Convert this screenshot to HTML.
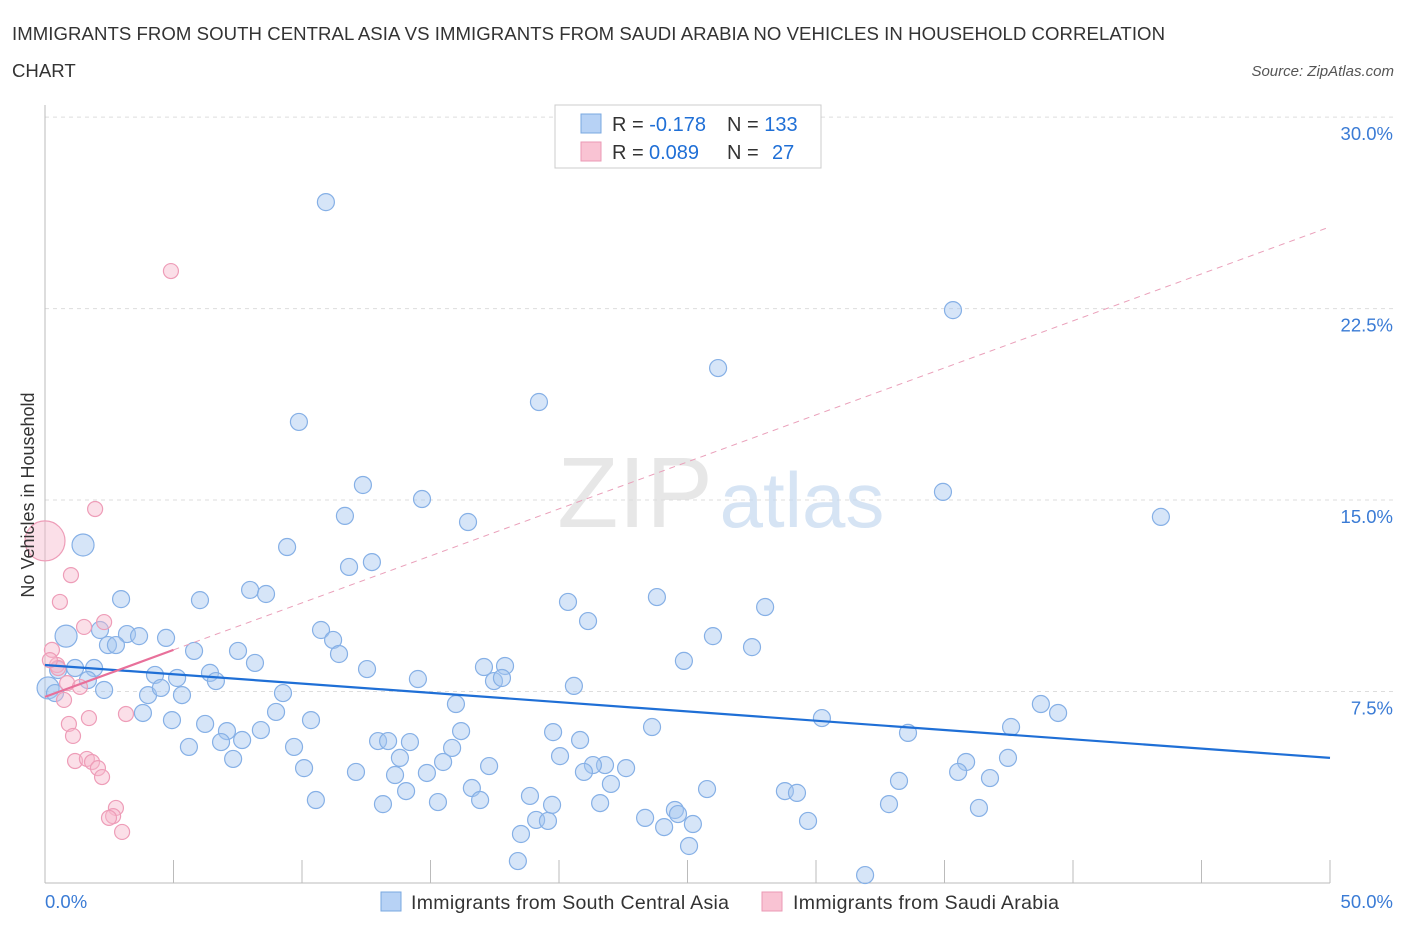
<!DOCTYPE html>
<html><head><meta charset="utf-8"><style>
body{margin:0;background:#fff;font-family:"Liberation Sans",sans-serif;}
svg text{font-family:"Liberation Sans",sans-serif;}
</style></head><body>
<svg id="chart" width="1406" height="930">
<text x="12" y="40" font-size="18.6" fill="#333" textLength="1153">IMMIGRANTS FROM SOUTH CENTRAL ASIA VS IMMIGRANTS FROM SAUDI ARABIA NO VEHICLES IN HOUSEHOLD CORRELATION</text>
<text x="12" y="77" font-size="18.6" fill="#333">CHART</text>
<text x="1394" y="76" font-size="15" fill="#555" font-style="italic" text-anchor="end">Source: ZipAtlas.com</text>
<g id="grid"></g>
<g>
<text x="635" y="527" font-size="100" fill="#ddd" font-family="Liberation Serif" text-anchor="middle" opacity="0.7">ZIP</text>
<text x="802" y="527" font-size="78" fill="#c6d9f0" text-anchor="middle" opacity="0.7">atlas</text>
</g>
<g id="axes"></g>
<g id="pts"></g>
<g id="trends"></g>
<text x="34" y="495" font-size="18" fill="#333" text-anchor="middle" transform="rotate(-90 34 495)">No Vehicles in Household</text>
<g>
<rect x="555" y="105" width="266" height="63" fill="#fff" stroke="#ccc"/>
<rect x="581" y="114" width="20" height="19" fill="#b7d2f5" stroke="#7aa8e0"/>
<rect x="581" y="142" width="20" height="19" fill="#f9c3d3" stroke="#eb9ab5"/>
<text x="612" y="131" font-size="20" fill="#333">R = <tspan fill="#1f6fd6">-0.178</tspan><tspan x="727">N = </tspan><tspan fill="#1f6fd6">133</tspan></text>
<text x="612" y="159" font-size="20" fill="#333">R = <tspan fill="#1f6fd6" x="649">0.089</tspan><tspan x="727">N = </tspan><tspan fill="#1f6fd6" x="772">27</tspan></text>
</g>
<g>
<rect x="381" y="892" width="20" height="19" fill="#b7d2f5" stroke="#7aa8e0"/>
<text x="411" y="909" font-size="19.5" fill="#333" textLength="318">Immigrants from South Central Asia</text>
<rect x="762" y="892" width="20" height="19" fill="#f9c3d3" stroke="#eb9ab5"/>
<text x="793" y="909" font-size="19.5" fill="#333" textLength="266">Immigrants from Saudi Arabia</text>
</g>
</svg>
<script>
const blueX=[10.93,35.33,26.19,19.22,9.88,12.37,14.67,34.94,11.67,16.46,43.42,1.48,9.42,11.83,12.72,7.98,8.6,2.96,6.03,20.35,23.81,28.02,21.13,10.74,2.14,0.82,3.19,3.66,4.71,25.99,11.21,2.45,2.76,7.51,5.8,27.51,11.44,8.17,24.86,1.91,1.17,0.51,4.28,5.14,6.42,6.65,17.08,17.9,12.53,17.47,17.78,14.51,1.67,2.3,4.01,4.51,5.33,9.26,20.58,0.12,0.39,15.99,38.75,39.42,3.81,8.99,10.35,4.94,6.23,30.23,23.62,37.59,7.08,8.4,16.19,19.77,20.82,7.67,6.85,12.96,13.35,14.2,5.6,9.69,15.84,33.58,7.32,13.81,15.49,20.04,21.79,21.32,10.08,17.28,22.61,12.1,13.62,14.86,35.84,35.53,37.47,20.97,36.77,33.23,22.02,16.61,25.76,14.05,28.79,29.26,18.87,10.54,13.15,15.29,16.93,19.73,21.6,32.84,36.34,24.51,23.35,19.11,19.57,29.69,24.63,18.52,24.09,25.21,25.06,18.4,31.91];
const blueY=[26.67,22.44,20.17,18.84,18.06,15.59,15.04,15.32,14.38,14.14,14.34,13.24,13.16,12.38,12.57,11.48,11.32,11.12,11.08,11.01,11.2,10.81,10.26,9.91,9.91,9.67,9.75,9.67,9.6,9.67,9.52,9.32,9.32,9.09,9.09,9.24,8.97,8.62,8.7,8.42,8.42,8.34,8.15,8.03,8.23,7.91,8.46,8.5,8.38,7.91,8.03,7.99,7.95,7.56,7.36,7.64,7.36,7.44,7.72,7.64,7.44,7.01,7.01,6.66,6.66,6.7,6.38,6.38,6.23,6.46,6.11,6.11,5.95,5.99,5.95,5.91,5.6,5.6,5.52,5.56,5.56,5.52,5.33,5.33,5.29,5.88,4.86,4.9,4.74,4.97,4.62,4.62,4.5,4.58,4.5,4.35,4.23,4.31,4.74,4.35,4.9,4.35,4.11,4.0,3.88,3.72,3.68,3.6,3.6,3.53,3.41,3.25,3.09,3.17,3.25,3.06,3.13,3.09,2.94,2.86,2.55,2.47,2.43,2.43,2.7,1.92,2.19,2.31,1.45,0.86,0.31];
const blueBig=[11,25,59];
const pinkX=[4.9,1.95,0,1.01,0.58,2.3,1.52,0.27,0.47,0.51,0.86,1.36,0.74,1.71,3.15,0.93,1.09,1.17,1.63,1.83,2.06,2.22,2.76,2.65,2.49,3.0,0.19];
const pinkY=[23.97,14.65,13.4,12.06,11.01,10.22,10.03,9.13,8.54,8.42,7.83,7.68,7.17,6.46,6.62,6.23,5.76,4.78,4.86,4.74,4.5,4.15,2.94,2.62,2.55,2.0,8.73];
const pinkBig=[2];
const yTicks=[7.5,15,22.5,30];
const yTickLabels=["7.5%","15.0%","22.5%","30.0%"];
const xTicks=[0,5,10,15,20,25,30,35,40,45,50];
const blueTrend=[8.54,4.9];
const pinkTrend=[7.29,25.7];
const pinkSolidEnd=5;
const NS="http://www.w3.org/2000/svg";
const X=v=>45+v*25.7, Y=v=>883-v*25.53;
function mk(tag,a,parent){const e=document.createElementNS(NS,tag);for(const k in a)e.setAttribute(k,a[k]);document.getElementById(parent).appendChild(e);return e;}
yTicks.forEach((t,i)=>{
 const l=mk('line',{x1:45,x2:1393,y1:Y(t),y2:Y(t),stroke:'#ddd','stroke-dasharray':'4,4'},'grid');
 
 
 const tx=mk('text',{x:1393,y:Y(t)+23,'font-size':18.5,fill:'#3a7bd5','text-anchor':'end'},'grid');
 tx.textContent=yTickLabels[i];
 
 
});
const ax=mk('line',{x1:45,x2:45,y1:105,y2:883,stroke:'#bbb'},'axes');


const bx=mk('line',{x1:45,x2:1330,y1:883,y2:883,stroke:'#bbb'},'axes');


xTicks.forEach(t=>{
 const l=mk('line',{x1:X(t),x2:X(t),y1:860,y2:883,stroke:'#bbb'},'axes');
 
 
});
const xl0=mk('text',{x:45,y:908,'font-size':18.5,fill:'#3a7bd5'},'axes');xl0.textContent=xTicks[0].toFixed(1)+'%';


const xl1=mk('text',{x:1393,y:908,'font-size':18.5,fill:'#3a7bd5','text-anchor':'end'},'axes');xl1.textContent=xTicks[xTicks.length-1].toFixed(1)+'%';


blueX.forEach((v,i)=>{
 const c=mk('circle',{cx:X(v),cy:Y(blueY[i]),r:blueBig.includes(i)?11:8.5,fill:'rgba(165,198,240,0.45)',stroke:'#86b0e6','stroke-width':1.2},'pts');
 
 
});
pinkX.forEach((v,i)=>{
 const c=mk('circle',{cx:X(v),cy:Y(pinkY[i]),r:pinkBig.includes(i)?20:7.5,fill:'rgba(247,183,203,0.45)',stroke:'#ee9db8','stroke-width':1.2},'pts');
 
 
});
const bt=mk('line',{x1:X(0),y1:Y(blueTrend[0]),x2:X(50),y2:Y(blueTrend[1]),stroke:'#1f6fd6','stroke-width':2.2},'trends');


const pAt=x=>pinkTrend[0]+(pinkTrend[1]-pinkTrend[0])*x/50;
const pd=mk('line',{x1:X(pinkSolidEnd),y1:Y(pAt(pinkSolidEnd)),x2:X(50),y2:Y(pinkTrend[1]),stroke:'#eaa0ba','stroke-width':1,'stroke-dasharray':'6,5'},'trends');


const ps=mk('line',{x1:X(0),y1:Y(pinkTrend[0]),x2:X(pinkSolidEnd),y2:Y(pAt(pinkSolidEnd)),stroke:'#e8709a','stroke-width':2.2},'trends');


</script>
</body></html>
